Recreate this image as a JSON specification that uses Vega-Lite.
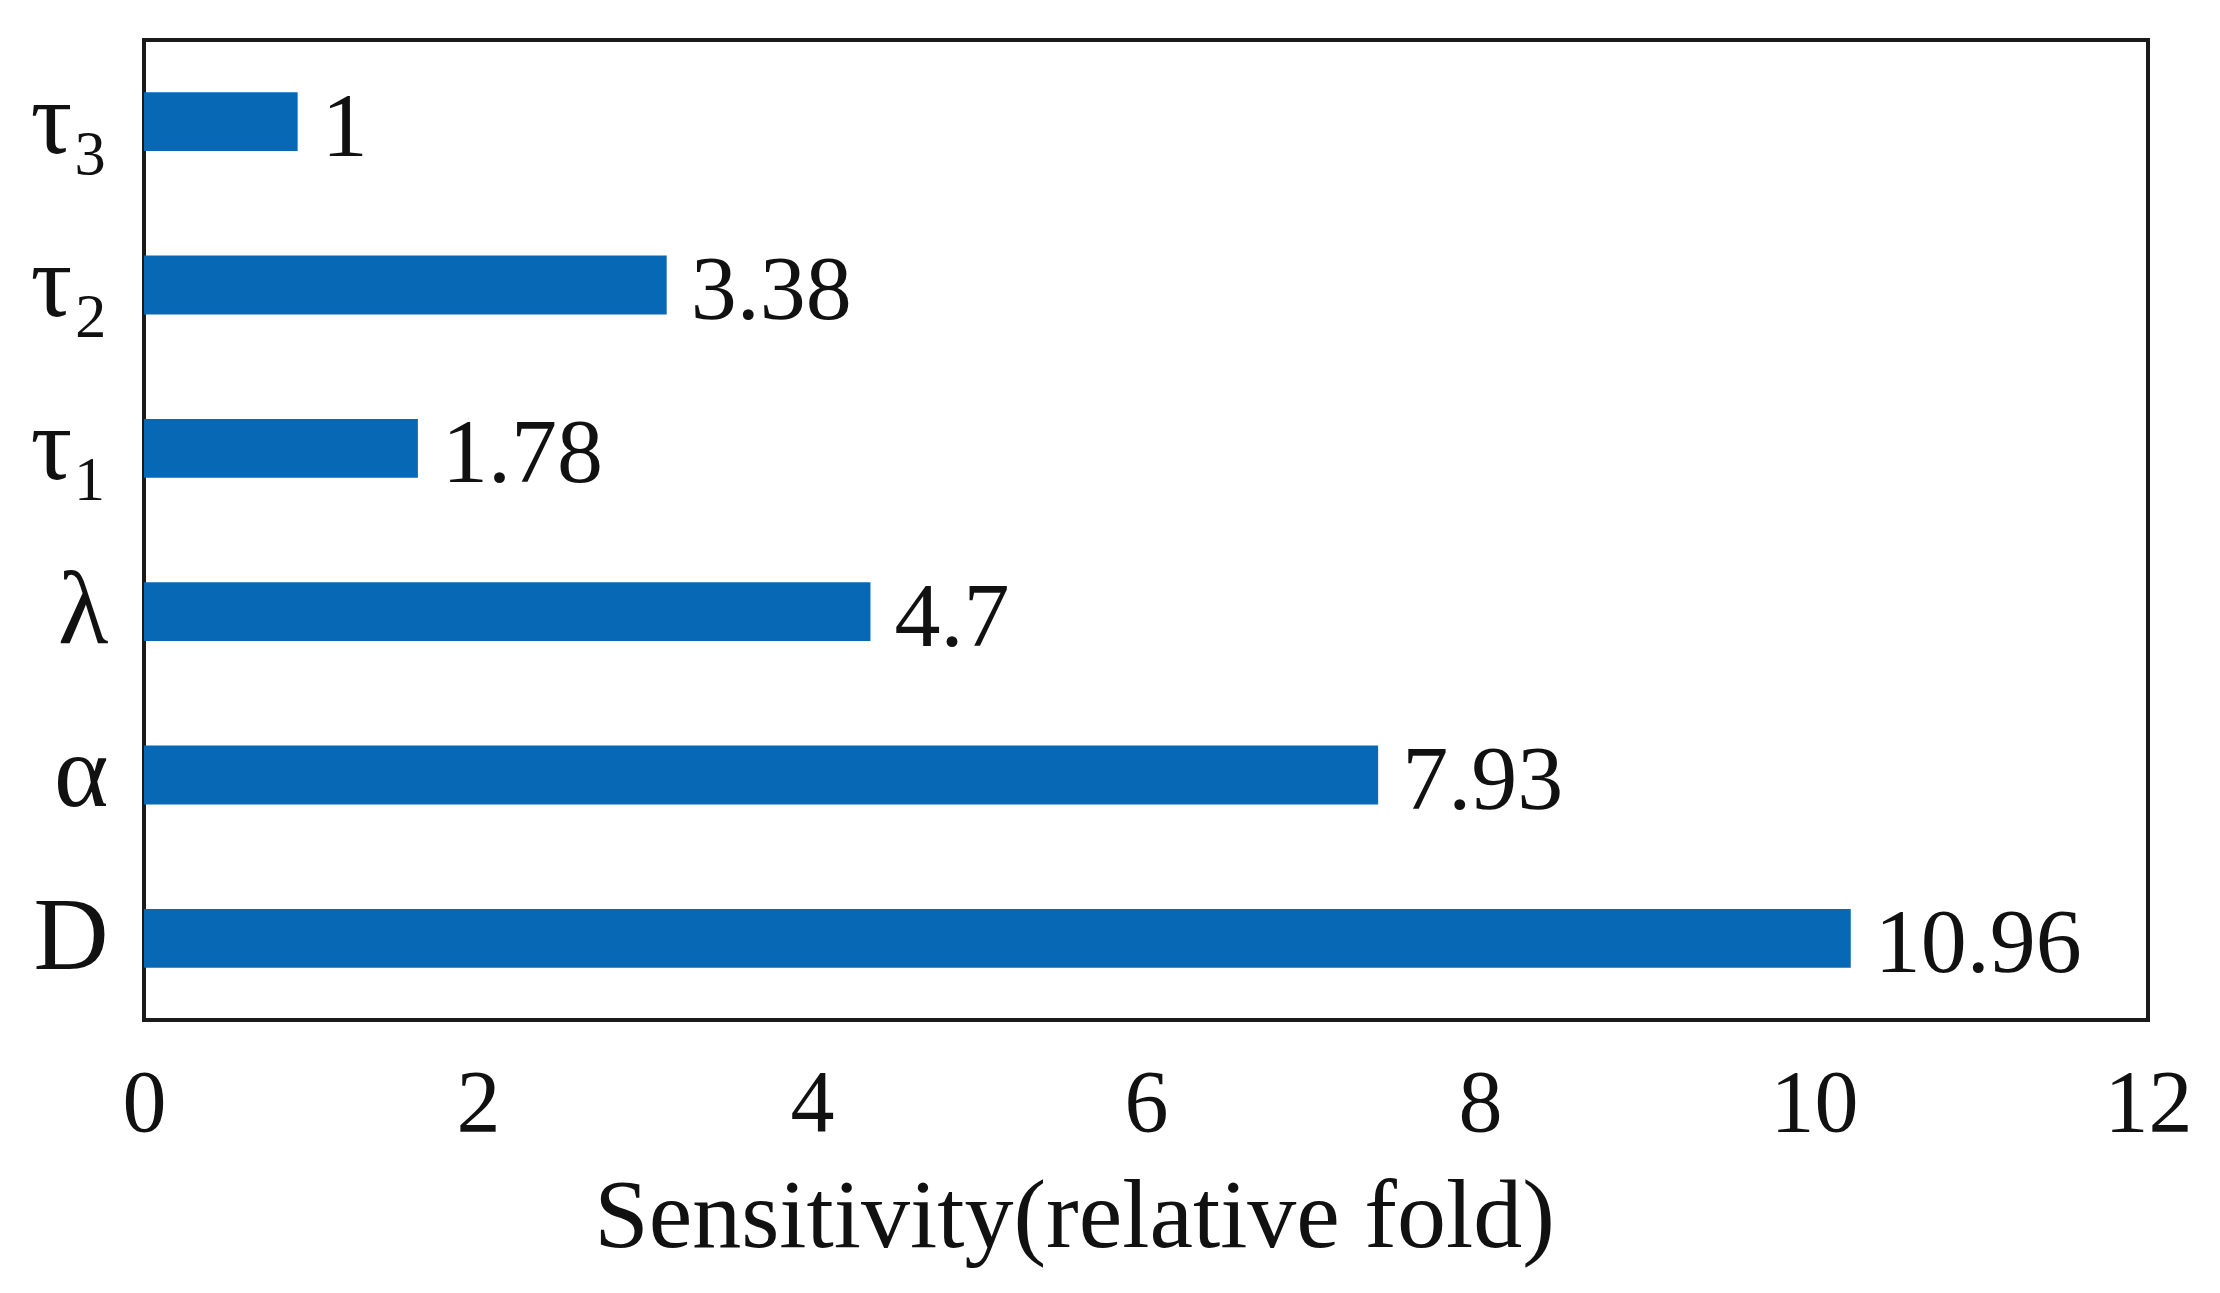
{
  "$schema": "https://vega.github.io/schema/vega-lite/v6.json",
  "autosize": {"type": "none"},
  "padding": {"left": 144, "top": 40, "right": 72, "bottom": 273},
  "width": 2004,
  "height": 980,
  "background": "white",
  "config": {
    "view": {"stroke": "#1a1a1a", "strokeWidth": 4},
    "font": "Liberation Serif"
  },
  "data": {
    "values": [
      {"param": "τ₃", "value": 0.92, "label": "1"},
      {"param": "τ₂", "value": 3.13, "label": "3.38"},
      {"param": "τ₁", "value": 1.64, "label": "1.78"},
      {"param": "λ", "value": 4.35, "label": "4.7"},
      {"param": "α", "value": 7.39, "label": "7.93"},
      {"param": "D", "value": 10.22, "label": "10.96"}
    ]
  },
  "encoding": {
    "y": {
      "field": "param",
      "type": "nominal",
      "sort": null,
      "scale": {"paddingInner": 0.64, "paddingOuter": 0.32},
      "axis": {
        "title": null,
        "domain": false,
        "ticks": false,
        "labelFont": "Liberation Serif",
        "labelFontSize": 104,
        "labelColor": "#111",
        "labelPadding": 36
      }
    },
    "x": {
      "field": "value",
      "type": "quantitative",
      "scale": {"domain": [0, 12], "nice": false},
      "axis": {
        "values": [0, 2, 4, 6, 8, 10, 12],
        "grid": false,
        "domain": false,
        "ticks": false,
        "labelFlush": false,
        "labelFont": "Liberation Serif",
        "labelFontSize": 88,
        "labelColor": "#111",
        "labelPadding": 40,
        "title": "Sensitivity(relative fold)",
        "titleFont": "Liberation Serif",
        "titleFontSize": 98,
        "titleFontWeight": "normal",
        "titleColor": "#111",
        "titleBaseline": "alphabetic",
        "titleAlign": "center",
        "titleX": 930,
        "titleY": 226
      }
    }
  },
  "layer": [
    {"mark": {"type": "bar", "color": "#0768b6"}},
    {
      "mark": {
        "type": "text",
        "align": "left",
        "baseline": "middle",
        "dx": 24,
        "dy": 6,
        "font": "Liberation Serif",
        "fontSize": 92,
        "color": "#111"
      },
      "encoding": {"text": {"field": "label"}}
    }
  ]
}
